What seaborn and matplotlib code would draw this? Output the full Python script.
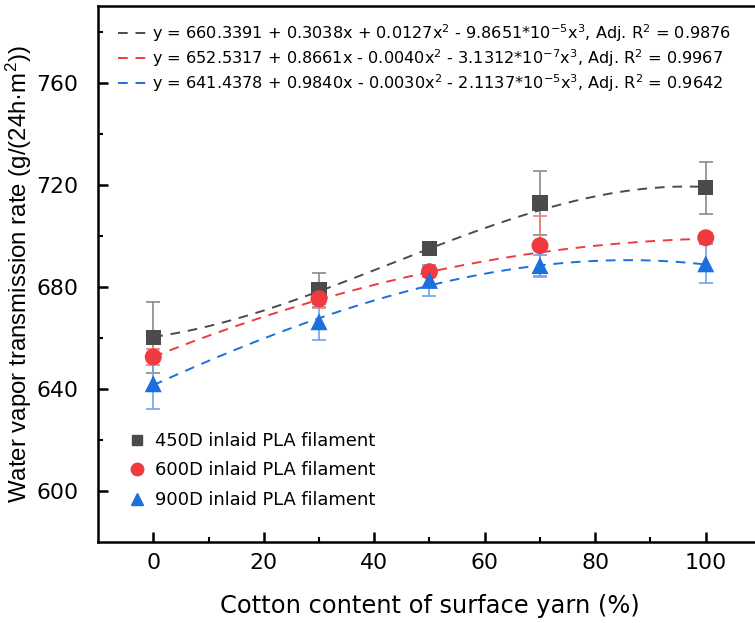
import numpy as np
import pandas as pd
import matplotlib
matplotlib.use("Agg")
import matplotlib.pyplot as plt
from matplotlib.lines import Line2D
import seaborn as sns

# dados
cotton = [0, 30, 50, 70, 100]
wvtr_450 = [660.2, 678.8, 694.9, 712.8, 718.8]
wvtr_600 = [652.5, 675.3, 685.9, 696.1, 699.2]
wvtr_900 = [642.0, 666.3, 682.5, 688.3, 689.0]
err_450 = [14.0, 6.7, 1.5, 12.5, 10.2]
err_600 = [3.0, 3.5, 2.0, 11.7, 2.0]
err_900 = [10.0, 7.0, 6.0, 4.3, 7.7]

# coeficientes do ajuste cúbico (c0, c1, c2, c3)
coef_450 = [660.3391, 0.3038, 0.0127, -9.8651e-5]
coef_600 = [652.5317, 0.8661, -0.0040, -3.1312e-7]
coef_900 = [641.4378, 0.9840, -0.0030, -2.1137e-5]

labels = ["450D inlaid PLA filament", "600D inlaid PLA filament", "900D inlaid PLA filament"]
equations = [
    r"y = 660.3391 + 0.3038x + 0.0127x$^{2}$ - 9.8651*10$^{-5}$x$^{3}$, Adj. R$^{2}$ = 0.9876",
    r"y = 652.5317 + 0.8661x - 0.0040x$^{2}$ - 3.1312*10$^{-7}$x$^{3}$, Adj. R$^{2}$ = 0.9967",
    r"y = 641.4378 + 0.9840x - 0.0030x$^{2}$ - 2.1137*10$^{-5}$x$^{3}$, Adj. R$^{2}$ = 0.9642",
]

COLORS = ["#4b4b4b", "#ef3b3f", "#1c6fde"]
ERR_COLORS = ["#8a8a8a", "#f47c7c", "#6fa3ee"]
MARKERS = ["s", "o", "^"]
W, H = 755, 623

sns.set_theme(style="ticks")
plt.rcParams["font.family"] = ["DejaVu Sans"]
plt.rcParams["mathtext.fontset"] = "dejavusans"
plt.rcParams["mathtext.default"] = "regular"
plt.rcParams["text.color"] = "black"
plt.rcParams["xtick.color"] = "black"
plt.rcParams["ytick.color"] = "black"
plt.rcParams["axes.labelcolor"] = "black"

fig = plt.figure(figsize=(W / 100, H / 100), dpi=100)
ax = fig.add_axes([98 / W, 1 - 542 / H, (761 - 98) / W, (542 - 6) / H])

x_fit = np.linspace(0, 100, 200)
series = [
    (wvtr_450, err_450, coef_450),
    (wvtr_600, err_600, coef_600),
    (wvtr_900, err_900, coef_900),
]

for i, (vals, errs, coef) in enumerate(series):
    y_fit = np.polynomial.polynomial.polyval(x_fit, coef)
    fit_df = pd.DataFrame({"x": x_fit, "y": y_fit})
    sns.lineplot(data=fit_df, x="x", y="y", ax=ax, color=COLORS[i],
                 linestyle=(0, (5, 4)), linewidth=1.4, zorder=2)
    ax.errorbar(cotton, vals, yerr=errs, fmt="none", ecolor=ERR_COLORS[i],
                elinewidth=1.2, capsize=5, capthick=1.2, zorder=3)
    pts = pd.DataFrame({"x": cotton, "y": vals})
    sns.scatterplot(data=pts, x="x", y="y", ax=ax, marker=MARKERS[i],
                    color=COLORS[i], s=150 if MARKERS[i] != "s" else 120,
                    edgecolor="none", zorder=4)

ax.set_xlim(-10, 110)
ax.set_ylim(580, 790)
ax.set_xticks([0, 20, 40, 60, 80, 100])
ax.set_xticks([10, 30, 50, 70, 90], minor=True)
ax.set_yticks([600, 640, 680, 720, 760])
ax.set_yticks([620, 660, 700, 740, 780], minor=True)

ax.set_xlabel("Cotton content of surface yarn (%)", fontsize=17.4, labelpad=15)
ax.set_ylabel("Water vapor transmission rate (g/(24h·m$^{2}$))", fontsize=17.3,
              labelpad=2, family="Liberation Sans")

for s in ax.spines.values():
    s.set_linewidth(1.8)
    s.set_color("black")
ax.tick_params(axis="both", which="major", direction="in", length=7, width=1.8,
               labelsize=15.8)
ax.tick_params(axis="x", which="major", pad=8)
ax.tick_params(axis="y", which="major", pad=14)
ax.tick_params(axis="both", which="minor", direction="in", length=3.5, width=1.5)

# legenda das curvas ajustadas
line_handles = [Line2D([0], [0], color=c, linestyle=(0, (5, 4)), linewidth=1.4) for c in COLORS]
leg1 = ax.legend(line_handles, equations, loc="upper left",
                 bbox_to_anchor=(118 / W, 1 - 22 / H), bbox_transform=fig.transFigure,
                 frameon=False, fontsize=11.65, handlelength=1.85, handletextpad=0.23,
                 labelspacing=0.2, borderaxespad=0, borderpad=0)
ax.add_artist(leg1)

# legenda dos marcadores
marker_handles = [Line2D([0], [0], marker=m, color=c, linestyle="none",
                         markersize=7.5 if m == "s" else 9)
                  for m, c in zip(MARKERS, COLORS)]
ax.legend(marker_handles, labels, loc="upper left",
          bbox_to_anchor=(128 / W, 1 - 432 / H), bbox_transform=fig.transFigure,
          frameon=False, fontsize=12.9, handlelength=1.0, handletextpad=0.5,
          labelspacing=0.64, borderaxespad=0, borderpad=0)

fig.savefig("out.png", dpi=100)
